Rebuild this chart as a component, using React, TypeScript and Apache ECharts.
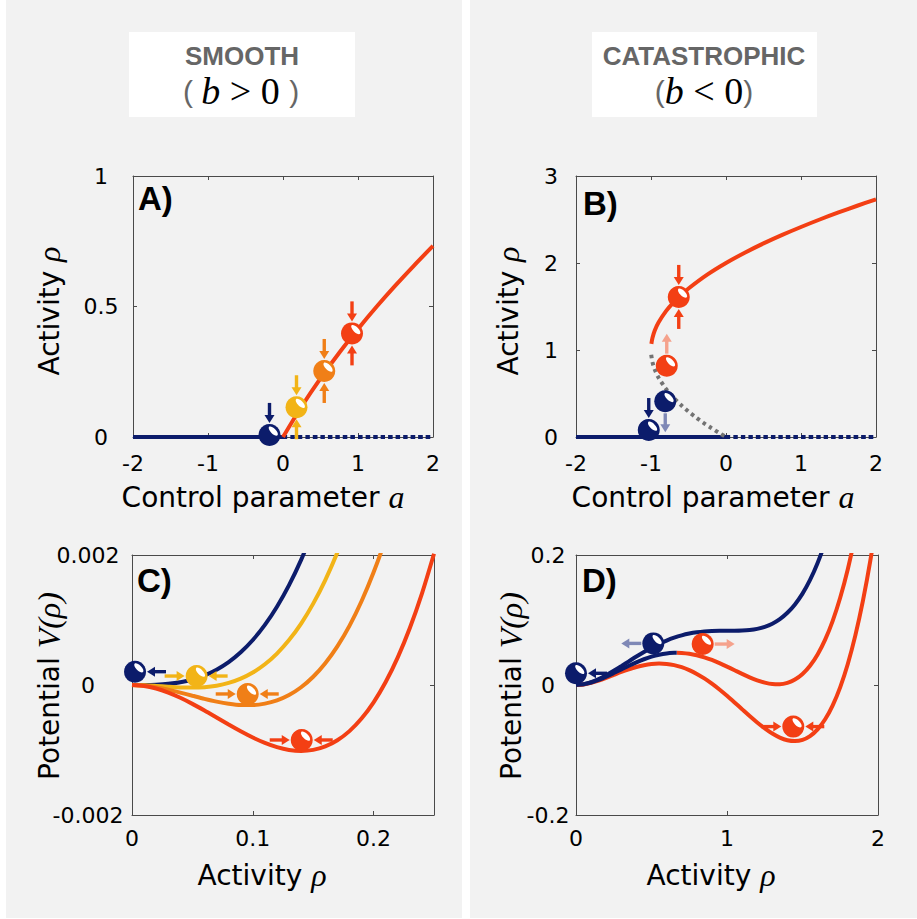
import React, { useEffect, useRef } from 'react';
import * as echarts from 'echarts';

// ---------------- data ----------------
// Panel A: smooth transition, control parameter a vs activity rho
const aStableZero = [[-2, 0], [0, 0]];
const aUnstableZero = [[0, 0], [2, 0]];
const aActiveBranch = [[0, 0], [0.25, 0.118], [0.5, 0.225], [0.75, 0.323], [1, 0.414], [1.25, 0.5], [1.5, 0.581], [1.75, 0.658], [2, 0.732]];
const aBalls = [[-0.18, 0.008], [0.18, 0.114], [0.55, 0.253], [0.92, 0.397]];

// Panel B: catastrophic transition
const bStableZero = [[-2, 0], [0, 0]];
const bUnstableZero = [[0, 0], [2, 0]];
const bActiveBranch = [[-0.995, 1.071], [-0.98, 1.141], [-0.95, 1.224], [-0.9, 1.316], [-0.8, 1.447], [-0.7, 1.548], [-0.6, 1.632], [-0.5, 1.707], [-0.25, 1.866], [0, 2.0], [0.25, 2.118], [0.5, 2.225], [0.75, 2.323], [1, 2.414], [1.25, 2.5], [1.5, 2.581], [1.75, 2.658], [2, 2.732]];
const bUnstableBranch = [[-0.997, 0.945], [-0.98, 0.859], [-0.95, 0.776], [-0.9, 0.684], [-0.8, 0.553], [-0.7, 0.452], [-0.6, 0.368], [-0.5, 0.293], [-0.4, 0.225], [-0.3, 0.163], [-0.2, 0.106], [-0.1, 0.051], [0, 0]];
const bBalls = [[-0.63, 1.61], [-0.79, 0.82], [-0.81, 0.41], [-1.03, 0.08]];

// Panel C: potentials, smooth case
const cNavy = [[0, 0], [0.01, 0.00000067], [0.02, 0.0000054], [0.03, 0.0000182], [0.04, 0.0000433], [0.05, 0.0000849], [0.06, 0.0001472], [0.07, 0.0002347], [0.08, 0.0003515], [0.09, 0.0005024], [0.1, 0.0006917], [0.11, 0.0009239], [0.12, 0.0012038], [0.13, 0.0015361], [0.14, 0.0019253], [0.15, 0.0023766]];
const cYellow = [[0, 0], [0.01, -0.0000043], [0.02, -0.0000146], [0.03, -0.0000268], [0.04, -0.0000367], [0.05, -0.0000401], [0.06, -0.0000328], [0.07, -0.0000103], [0.08, 0.0000315], [0.09, 0.0000974], [0.1, 0.0001917], [0.11, 0.0003189], [0.12, 0.0004838], [0.13, 0.0006911], [0.14, 0.0009453], [0.15, 0.0012516], [0.16, 0.0016145], [0.17, 0.0020391], [0.18, 0.0025304]];
const cOrange = [[0, 0], [0.01, -0.0000093], [0.02, -0.0000346], [0.03, -0.0000718], [0.04, -0.0001167], [0.05, -0.0001651], [0.06, -0.0002128], [0.07, -0.0002553], [0.08, -0.0002885], [0.09, -0.0003076], [0.1, -0.0003083], [0.11, -0.0002861], [0.12, -0.0002362], [0.13, -0.0001539], [0.14, -0.0000347], [0.15, 0.0001266], [0.16, 0.0003345], [0.17, 0.0005941], [0.18, 0.0009104], [0.19, 0.0012885], [0.2, 0.0017333], [0.21, 0.0022502], [0.22, 0.0028443]];
const cRed = [[0, 0], [0.01, -0.0000143], [0.02, -0.0000546], [0.03, -0.0001168], [0.04, -0.0001967], [0.05, -0.0002901], [0.06, -0.0003928], [0.07, -0.0005003], [0.08, -0.0006085], [0.09, -0.0007126], [0.1, -0.0008083], [0.11, -0.0008911], [0.12, -0.0009562], [0.13, -0.0009989], [0.14, -0.0010147], [0.15, -0.0009984], [0.16, -0.0009455], [0.17, -0.0008509], [0.18, -0.0007096], [0.19, -0.0005165], [0.2, -0.0002667], [0.21, 0.0000452], [0.22, 0.0004243], [0.23, 0.0008759], [0.24, 0.0014054], [0.25, 0.0020183]];
const cBalls = [[0.0025, 0.000205], [0.0535, 0.000138], [0.0958, -0.000138], [0.1405, -0.000846]];

// Panel D: potentials, catastrophic case
const dNavy = [[0, 0], [0.05, 0.001168], [0.1, 0.004358], [0.15, 0.009127], [0.2, 0.015067], [0.25, 0.02181], [0.3, 0.029025], [0.35, 0.036419], [0.4, 0.043733], [0.45, 0.050752], [0.5, 0.057292], [0.55, 0.06321], [0.6, 0.0684], [0.65, 0.072794], [0.7, 0.076358], [0.75, 0.079102], [0.8, 0.081067], [0.85, 0.082335], [0.9, 0.083025], [0.95, 0.083294], [1.0, 0.083333], [1.05, 0.083377], [1.1, 0.083692], [1.15, 0.084585], [1.2, 0.0864], [1.25, 0.089519], [1.3, 0.094358], [1.35, 0.101377], [1.4, 0.111067], [1.45, 0.12396], [1.5, 0.140625], [1.55, 0.161669], [1.6, 0.187733], [1.65, 0.219502], [1.7, 0.257692]];
const dMiddleNavyPart = [[0, 0], [0.05, 0.001031], [0.1, 0.003808], [0.15, 0.00789], [0.2, 0.012867], [0.25, 0.018373], [0.3, 0.024075], [0.35, 0.029682], [0.4, 0.034933], [0.45, 0.039615], [0.5, 0.043542], [0.55, 0.046573], [0.6, 0.0486], [0.65, 0.049557], [0.667, 0.04963]];
const dMiddleRedPart = [[0.667, 0.04963], [0.7, 0.049408], [0.75, 0.048165], [0.8, 0.045867], [0.85, 0.042598], [0.9, 0.038475], [0.95, 0.033657], [1.0, 0.028333], [1.05, 0.02274], [1.1, 0.017142], [1.15, 0.011848], [1.2, 0.0072], [1.25, 0.003582], [1.3, 0.001408], [1.35, 0.00114], [1.4, 0.003267], [1.45, 0.008323], [1.5, 0.016875], [1.55, 0.029532], [1.6, 0.046933], [1.65, 0.069765], [1.7, 0.098742], [1.75, 0.134623], [1.8, 0.1782], [1.85, 0.230307]];
const dLowerRed = [[0, 0], [0.05, 0.000918], [0.1, 0.003358], [0.15, 0.006877], [0.2, 0.011067], [0.25, 0.01556], [0.3, 0.020025], [0.35, 0.024169], [0.4, 0.027733], [0.45, 0.030502], [0.5, 0.032292], [0.55, 0.03296], [0.6, 0.0324], [0.65, 0.030544], [0.7, 0.027358], [0.75, 0.022852], [0.8, 0.017067], [0.85, 0.010085], [0.9, 0.002025], [0.95, -0.006956], [1.0, -0.016667], [1.05, -0.026873], [1.1, -0.037308], [1.15, -0.047665], [1.2, -0.0576], [1.25, -0.066731], [1.3, -0.074642], [1.35, -0.080873], [1.4, -0.084933], [1.45, -0.08629], [1.5, -0.084375], [1.55, -0.078581], [1.6, -0.068267], [1.65, -0.052748], [1.7, -0.031308], [1.75, -0.00319], [1.8, 0.0324], [1.85, 0.076294], [1.9, 0.129358], [1.95, 0.192502], [2.0, 0.266667]];
const dBalls = [[0, 0.018], [0.512, 0.064], [0.839, 0.063], [1.439, -0.064]];

// ---------------- styles ----------------
const NAVY = '#0c1c6b';
const RED = '#f33f14';
const ORANGE = '#f07f17';
const YELLOW = '#f2b417';
const GRAY = '#737373';
const NAVY_FADED = '#7f88b6';
const RED_FADED = '#f5a28c';
const AXIS = '#4a4a4a';
const SANS = 'DejaVu Sans';
const SERIF = 'Liberation Serif';

const ARROWS: Record<string, number[][]> = {
  N_in: [[0, -32], [0, -12]],
  S_in: [[0, 32], [0, 12]],
  N_out: [[0, -12], [0, -32]],
  S_out: [[0, 12], [0, 31]],
  W_in: [[-32, 0], [-12, 0]],
  E_in: [[31, 0], [12, 0]],
  W_out: [[-12, 0], [-32, 0]],
  E_out: [[12, 0], [32, 0]],
};

type BallStyle = { color: string; arrows: { dir: string; color: string }[] };

const aBallStyles: BallStyle[] = [
  { color: NAVY, arrows: [{ dir: 'N_in', color: NAVY }] },
  { color: YELLOW, arrows: [{ dir: 'N_in', color: YELLOW }, { dir: 'S_in', color: YELLOW }] },
  { color: ORANGE, arrows: [{ dir: 'N_in', color: ORANGE }, { dir: 'S_in', color: ORANGE }] },
  { color: RED, arrows: [{ dir: 'N_in', color: RED }, { dir: 'S_in', color: RED }] },
];
const bBallStyles: BallStyle[] = [
  { color: RED, arrows: [{ dir: 'N_in', color: RED }, { dir: 'S_in', color: RED }] },
  { color: RED, arrows: [{ dir: 'N_out', color: RED_FADED }] },
  { color: NAVY, arrows: [{ dir: 'S_out', color: NAVY_FADED }] },
  { color: NAVY, arrows: [{ dir: 'N_in', color: NAVY }] },
];
const cBallStyles: BallStyle[] = [
  { color: NAVY, arrows: [{ dir: 'E_in', color: NAVY }] },
  { color: YELLOW, arrows: [{ dir: 'W_in', color: YELLOW }, { dir: 'E_in', color: YELLOW }] },
  { color: ORANGE, arrows: [{ dir: 'W_in', color: ORANGE }, { dir: 'E_in', color: ORANGE }] },
  { color: RED, arrows: [{ dir: 'W_in', color: RED }, { dir: 'E_in', color: RED }] },
];
const dBallStyles: BallStyle[] = [
  { color: NAVY, arrows: [{ dir: 'E_in', color: NAVY }] },
  { color: NAVY, arrows: [{ dir: 'W_out', color: NAVY_FADED }] },
  { color: RED, arrows: [{ dir: 'E_out', color: RED_FADED }] },
  { color: RED, arrows: [{ dir: 'W_in', color: RED }, { dir: 'E_in', color: RED }] },
];

function lineSeries(gi: number, data: number[][], color: string, type: any = 'solid', width = 4) {
  return {
    type: 'line', xAxisIndex: gi, yAxisIndex: gi, data, symbol: 'none', showSymbol: false,
    smooth: 0.3, silent: true, z: 3,
    lineStyle: { color, width, type, cap: 'butt' },
  };
}

function ballSeries(gi: number, pts: number[][], styles: BallStyle[]) {
  return {
    type: 'custom', xAxisIndex: gi, yAxisIndex: gi, clip: false, silent: true, z: 10,
    data: pts,
    renderItem: (params: any, api: any) => {
      const c = api.coord([api.value(0), api.value(1)]);
      const st = styles[params.dataIndex];
      const children: any[] = [];
      for (const ar of st.arrows) {
        const [t, h] = ARROWS[ar.dir];
        const tx = c[0] + t[0], ty = c[1] + t[1];
        const hx = c[0] + h[0], hy = c[1] + h[1];
        const dx = hx - tx, dy = hy - ty;
        const len = Math.hypot(dx, dy);
        const ux = dx / len, uy = dy / len;
        const headLen = 8, headW = 5;
        const bx = hx - ux * headLen, by = hy - uy * headLen;
        children.push({
          type: 'line',
          shape: { x1: tx, y1: ty, x2: bx + ux, y2: by + uy },
          style: { stroke: ar.color, lineWidth: 3.4 },
        });
        children.push({
          type: 'polygon',
          shape: { points: [[hx, hy], [bx - uy * headW, by + ux * headW], [bx + uy * headW, by - ux * headW]] },
          style: { fill: ar.color },
        });
      }
      children.push({ type: 'circle', shape: { cx: c[0], cy: c[1], r: 11 }, style: { fill: st.color } });
      children.push({
        type: 'ellipse', x: c[0] + 3.8, y: c[1] - 3.8, rotation: -Math.PI / 4,
        shape: { cx: 0, cy: 0, rx: 6, ry: 2.6 }, style: { fill: '#ffffff' },
      });
      return { type: 'group', children };
    },
  };
}

function xAxisPair(gi: number, min: number, max: number, interval: number, margin: number, hideMax = false) {
  const common = {
    type: 'value', gridIndex: gi, min, max, interval,
    splitLine: { show: false },
    axisLine: { show: true, onZero: false, lineStyle: { color: AXIS, width: 1 } },
    axisTick: { show: true, inside: true, length: 4, lineStyle: { color: AXIS } },
  };
  return [
    { ...common, position: 'bottom',
      axisLabel: { show: true, margin, color: '#000', fontSize: 22, fontFamily: SANS, showMaxLabel: !hideMax } },
    { ...common, position: 'top', axisLabel: { show: false } },
  ];
}

function yAxisPair(gi: number, min: number, max: number, interval: number, margin: number) {
  const common = {
    type: 'value', gridIndex: gi, min, max, interval,
    splitLine: { show: false },
    axisLine: { show: true, onZero: false, lineStyle: { color: AXIS, width: 1 } },
    axisTick: { show: true, inside: true, length: 4, lineStyle: { color: AXIS } },
  };
  return [
    { ...common, position: 'left',
      axisLabel: { show: true, margin, align: 'center', color: '#000', fontSize: 22, fontFamily: SANS } },
    { ...common, position: 'right', axisLabel: { show: false } },
  ];
}

function textEl(x: number, y: number, text: string, rich: any, rotation = 0, align = 'center') {
  return {
    type: 'text', x, y, rotation, z: 100, silent: true,
    style: { text, rich, align, verticalAlign: 'middle', fill: '#000' },
  };
}

const nameRich = {
  n: { fontFamily: SANS, fontSize: 28, fill: '#000' },
  m: { fontFamily: SERIF, fontStyle: 'italic', fontSize: 32, fill: '#000' },
};

const titleRich = {
  p: { fontFamily: 'Liberation Sans', fontSize: 30, fill: '#666666' },
  b: { fontFamily: SERIF, fontStyle: 'italic', fontSize: 38, fill: '#000' },
  o: { fontFamily: SERIF, fontSize: 38, fill: '#000' },
};

export default function App() {
  const ref = useRef<HTMLDivElement>(null);
  useEffect(() => {
    if (!ref.current) return;
    const chart = echarts.init(ref.current, undefined, { renderer: 'svg' });
    const [ax0, ax4] = xAxisPair(0, -2, 2, 1, 15);
    const [ax1, ax5] = xAxisPair(1, -2, 2, 1, 15);
    const [ax2, ax6] = xAxisPair(2, 0, 0.25, 0.1, 12, true);
    const [ax3, ax7] = xAxisPair(3, 0, 2, 1, 12);
    const [ay0, ay4] = yAxisPair(0, 0, 1, 0.5, 32);
    const [ay1, ay5] = yAxisPair(1, 0, 3, 1, 25);
    const [ay2, ay6] = yAxisPair(2, -0.002, 0.002, 0.002, 44);
    const [ay3, ay7] = yAxisPair(3, -0.2, 0.2, 0.2, 28);
    const option: any = {
      animation: false,
      backgroundColor: 'transparent',
      grid: [
        { left: 133, top: 176, width: 300, height: 261 },
        { left: 576, top: 176, width: 300, height: 261 },
        { left: 132, top: 555, width: 302, height: 260 },
        { left: 576, top: 555, width: 302, height: 260 },
      ],
      xAxis: [ax0, ax1, ax2, ax3, ax4, ax5, ax6, ax7],
      yAxis: [ay0, ay1, ay2, ay3, ay4, ay5, ay6, ay7],
      graphic: [
        { type: 'rect', z: -100, silent: true, shape: { x: 6, y: 0, width: 456, height: 918 }, style: { fill: '#f2f2f2' } },
        { type: 'rect', z: -100, silent: true, shape: { x: 470, y: 0, width: 447, height: 918 }, style: { fill: '#f2f2f2' } },
        { type: 'rect', z: -90, silent: true, shape: { x: 129, y: 32, width: 226, height: 85 }, style: { fill: '#ffffff' } },
        { type: 'rect', z: -90, silent: true, shape: { x: 592, y: 32, width: 225, height: 85 }, style: { fill: '#ffffff' } },
        { type: 'text', x: 242, y: 56, z: 100, style: { text: 'SMOOTH', fontFamily: 'Liberation Sans', fontWeight: 'bold', fontSize: 26, fill: '#666666', align: 'center', verticalAlign: 'middle' } },
        { type: 'text', x: 704, y: 56, z: 100, style: { text: 'CATASTROPHIC', fontFamily: 'Liberation Sans', fontWeight: 'bold', fontSize: 26, fill: '#666666', align: 'center', verticalAlign: 'middle' } },
        textEl(241, 91, '{p|( }{b|b}{o| > 0 }{p|)}', titleRich),
        textEl(704, 91, '{p|(}{b|b}{o| < 0}{p|)}', titleRich),
        { type: 'text', x: 138, y: 198, z: 100, style: { text: 'A)', fontFamily: 'Liberation Sans', fontWeight: 'bold', fontSize: 33, fill: '#000', align: 'left', verticalAlign: 'middle' } },
        { type: 'text', x: 583, y: 203, z: 100, style: { text: 'B)', fontFamily: 'Liberation Sans', fontWeight: 'bold', fontSize: 33, fill: '#000', align: 'left', verticalAlign: 'middle' } },
        { type: 'text', x: 137, y: 580, z: 100, style: { text: 'C)', fontFamily: 'Liberation Sans', fontWeight: 'bold', fontSize: 33, fill: '#000', align: 'left', verticalAlign: 'middle' } },
        { type: 'text', x: 582, y: 580, z: 100, style: { text: 'D)', fontFamily: 'Liberation Sans', fontWeight: 'bold', fontSize: 33, fill: '#000', align: 'left', verticalAlign: 'middle' } },
        textEl(263, 497, '{n|Control parameter }{m|a}', nameRich),
        textEl(713, 497, '{n|Control parameter }{m|a}', nameRich),
        textEl(262, 875, '{n|Activity }{m|ρ}', nameRich),
        textEl(711, 875, '{n|Activity }{m|ρ}', nameRich),
        textEl(49, 311, '{n|Activity }{m|ρ}', nameRich, Math.PI / 2),
        textEl(508, 311, '{n|Activity }{m|ρ}', nameRich, Math.PI / 2),
        textEl(49, 686, '{n|Potential }{m|V(ρ)}', nameRich, Math.PI / 2),
        textEl(511, 686, '{n|Potential }{m|V(ρ)}', nameRich, Math.PI / 2),
      ],
      series: [
        lineSeries(0, aStableZero, NAVY),
        lineSeries(0, aUnstableZero, NAVY, [4.5, 3]),
        lineSeries(0, aActiveBranch, RED),
        ballSeries(0, aBalls, aBallStyles),

        lineSeries(1, bStableZero, NAVY),
        lineSeries(1, bUnstableZero, NAVY, [4.5, 3]),
        lineSeries(1, bUnstableBranch, GRAY, [3.5, 3.8]),
        lineSeries(1, bActiveBranch, RED),
        ballSeries(1, bBalls, bBallStyles),

        lineSeries(2, cNavy, NAVY),
        lineSeries(2, cYellow, YELLOW),
        lineSeries(2, cOrange, ORANGE),
        lineSeries(2, cRed, RED),
        ballSeries(2, cBalls, cBallStyles),

        lineSeries(3, dNavy, NAVY),
        lineSeries(3, dLowerRed, RED),
        lineSeries(3, dMiddleRedPart, RED),
        lineSeries(3, dMiddleNavyPart, NAVY),
        ballSeries(3, dBalls, dBallStyles),
      ],
    };
    chart.setOption(option);
    return () => chart.dispose();
  }, []);
  return (
    <div style={{ position: 'absolute', left: 0, top: 0, width: 917, height: 919, background: '#ffffff' }}>
      <div ref={ref} style={{ width: 917, height: 919 }} />
    </div>
  );
}
